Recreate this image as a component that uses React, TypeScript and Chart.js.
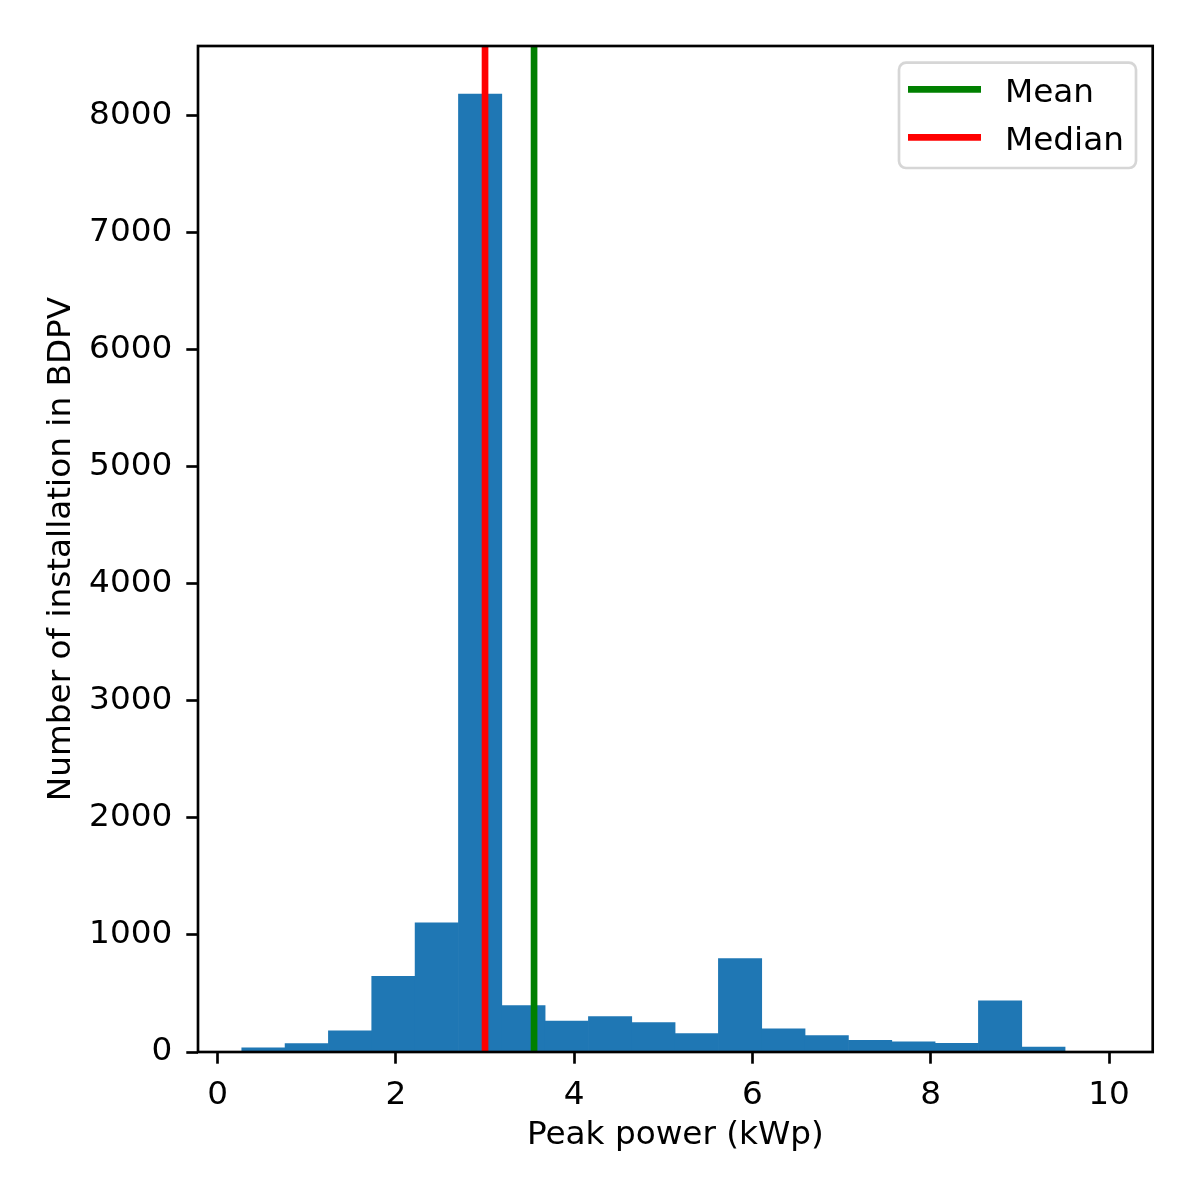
import React, { useEffect, useRef } from 'react';
import Chart from 'chart.js/auto';

// histogram bins (kWp)
const binEdges = [0.271, 0.757, 1.243, 1.729, 2.215, 2.702, 3.188, 3.674, 4.16, 4.646, 5.132, 5.618, 6.104, 6.59, 7.077, 7.563, 8.049, 8.535, 9.021, 9.507];
const binCounts = [35, 72, 180, 647, 1103, 8180, 397, 265, 302, 251, 157, 798, 197, 140, 100, 87, 74, 436, 43];

const meanValue = 3.55;
const medianValue = 3.0;

const xTicks = [0, 2, 4, 6, 8, 10];
const yTicks = [0, 1000, 2000, 3000, 4000, 5000, 6000, 7000, 8000];

const xMin = -0.22;
const xMax = 10.49;
const yMax = 8590;

const FS = 32.7;
const LW = 2.67;
const FONT = 'DejaVu Sans';

const framePlugin = {
  id: 'frame',
  afterDatasetsDraw(chart: any) {
    const { ctx, chartArea } = chart;
    ctx.save();
    ctx.strokeStyle = '#000';
    ctx.lineWidth = LW;
    ctx.strokeRect(chartArea.left, chartArea.top, chartArea.right - chartArea.left, chartArea.bottom - chartArea.top);
    ctx.restore();
  },
};

const legendPlugin = {
  id: 'innerLegend',
  afterDraw(chart: any) {
    const { ctx, chartArea } = chart;
    const items = chart.data.datasets.filter((d: any) => d.type === 'line');
    const boxW = 237;
    const boxH = 105.3;
    const x = chartArea.right - 16.7 - boxW;
    const y = chartArea.top + 16.7;
    ctx.save();
    ctx.beginPath();
    ctx.roundRect(x, y, boxW, boxH, 7);
    ctx.fillStyle = 'rgba(255,255,255,0.8)';
    ctx.fill();
    ctx.strokeStyle = 'rgba(204,204,204,0.8)';
    ctx.lineWidth = LW;
    ctx.stroke();
    items.forEach((d: any, i: number) => {
      const cy = y + 26.6 + i * 48;
      ctx.beginPath();
      ctx.moveTo(x + 9, cy);
      ctx.lineTo(x + 82, cy);
      ctx.strokeStyle = d.borderColor;
      ctx.lineWidth = 6.67;
      ctx.stroke();
      ctx.fillStyle = '#000';
      ctx.font = `${FS}px "${FONT}"`;
      ctx.textAlign = 'left';
      ctx.textBaseline = 'alphabetic';
      ctx.fillText(d.label, x + 106, cy + 13);
    });
    ctx.restore();
  },
};

const HistogramChart: React.FC = () => {
  const canvasRef = useRef<HTMLCanvasElement | null>(null);
  const chartRef = useRef<Chart | null>(null);

  useEffect(() => {
    const ctx = canvasRef.current?.getContext('2d');
    if (!ctx) return;
    if (chartRef.current) chartRef.current.destroy();

    const bars = binCounts.map((c, i) => ({ x: (binEdges[i] + binEdges[i + 1]) / 2, y: c }));
    const tickFont = { family: FONT, size: FS };

    chartRef.current = new Chart(ctx, {
      type: 'bar',
      data: {
        datasets: [
          {
            type: 'bar',
            label: 'counts',
            data: bars,
            backgroundColor: '#1f77b4',
            borderWidth: 0,
            barPercentage: 1,
            categoryPercentage: 1,
            order: 2,
          },
          {
            type: 'line',
            label: 'Mean',
            data: [{ x: meanValue, y: 0 }, { x: meanValue, y: yMax }],
            borderColor: '#008000',
            borderWidth: 6.67,
            pointRadius: 0,
            fill: false,
            order: 1,
          },
          {
            type: 'line',
            label: 'Median',
            data: [{ x: medianValue, y: 0 }, { x: medianValue, y: yMax }],
            borderColor: '#ff0000',
            borderWidth: 6.67,
            pointRadius: 0,
            fill: false,
            order: 0,
          },
        ] as any,
      },
      options: {
        animation: false,
        responsive: true,
        maintainAspectRatio: false,
        devicePixelRatio: 1,
        layout: { padding: { top: 46, right: 47.3, left: 0, bottom: 0 } },
        plugins: {
          legend: { display: false },
          tooltip: { enabled: false },
        },
        scales: {
          x: {
            type: 'linear',
            min: xMin,
            max: xMax,
            offset: false,
            grid: { offset: false, drawOnChartArea: false, drawTicks: true, tickLength: 11.7, tickWidth: LW, tickColor: '#000' },
            border: { display: false },
            ticks: { font: tickFont, color: '#000', padding: 12, maxRotation: 0, autoSkip: false, callback: (v: any) => String(v) },
            title: { display: true, text: 'Peak power (kWp)', font: tickFont, color: '#000', padding: { bottom: 43 } },
            afterBuildTicks: (s: any) => {
              s.ticks = xTicks.map((v) => ({ value: v }));
            },
            afterFit: (s: any) => {
              s.height = 146;
            },
          },
          y: {
            type: 'linear',
            min: 0,
            max: yMax,
            grid: { drawOnChartArea: false, drawTicks: true, tickLength: 11.7, tickWidth: LW, tickColor: '#000' },
            border: { display: false },
            ticks: { font: tickFont, color: '#000', padding: 14, autoSkip: false, callback: (v: any) => String(v) },
            title: { display: true, text: 'Number of installation in BDPV', font: tickFont, color: '#000', padding: { top: 42 } },
            afterBuildTicks: (s: any) => {
              s.ticks = yTicks.map((v) => ({ value: v }));
            },
            afterFit: (s: any) => {
              s.width = 198;
            },
          },
        },
      } as any,
      plugins: [framePlugin, legendPlugin],
    });

    return () => {
      if (chartRef.current) {
        chartRef.current.destroy();
        chartRef.current = null;
      }
    };
  }, []);

  return (
    <div style={{ position: 'absolute', left: 0, top: 0, width: 1200, height: 1198, background: '#fff' }}>
      <canvas ref={canvasRef} />
    </div>
  );
};

export default function App() {
  return <HistogramChart />;
}
